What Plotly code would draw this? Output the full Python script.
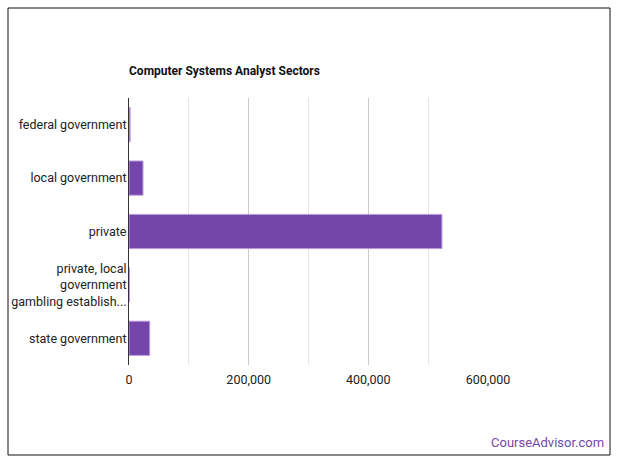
import plotly.graph_objects as go

categories = ["federal government", "local government", "private",
              "private, local<br>government<br>gambling establish...", "state government"]
values = [1800, 23400, 523000, 800, 34600]
tick_vals = [0, 200000, 400000, 600000]
tick_text = ["0", "200,000", "400,000", "600,000"]

L, R, T, B = 129, 132, 98, 100
PW, PH = 620 - L - R, 465 - T - B

def px(x):
    return (x - L) / PW

def py(y):
    return (465 - B - y) / PH

fig = go.Figure()
fig.add_trace(go.Bar(
    y=categories, x=values, orientation="h",
    marker=dict(color="#7446ac", line=dict(color="#b79ad8", width=1)),
    width=0.64,
))

fig.update_layout(
    width=620, height=465,
    margin=dict(l=L, r=R, t=T, b=B, autoexpand=False),
    paper_bgcolor="white", plot_bgcolor="white",
    font=dict(family="Roboto", size=12.5, color="#222222"),
    showlegend=False,
    title=dict(text="<b>Computer Systems Analyst Sectors</b>", x=129/620, xanchor="left",
               y=1-71/465, yanchor="middle", font=dict(size=12, color="#111111")),
    xaxis=dict(range=[0, 600000], tickvals=tick_vals, ticktext=tick_text, automargin=False,
               showgrid=True, gridcolor="#cccccc", gridwidth=1,
               minor=dict(dtick=100000, showgrid=True, gridcolor="#e6e6e6", gridwidth=1),
               zeroline=False, showline=False, ticks="", ticklabelstandoff=5),
    yaxis=dict(autorange="reversed", showline=True, linecolor="#333333", linewidth=1,
               automargin=False, showgrid=False, ticks="", ticklabelstandoff=-1),
    shapes=[dict(type="rect", xref="paper", yref="paper", x0=px(8), x1=px(610),
                 y0=py(455), y1=py(8),
                 line=dict(color="#111111", width=1), fillcolor="rgba(0,0,0,0)", layer="below")],
    annotations=[dict(text="CourseAdvisor.com", xref="paper", yref="paper",
                      x=px(606), y=py(442), xanchor="right", yanchor="middle",
                      showarrow=False, font=dict(size=13, color="#7446ac", family="Roboto"))],
)

fig.write_html("out.html", config={"displayModeBar": False},
               post_script="document.body.style.margin='0';document.body.style.overflow='hidden';")
